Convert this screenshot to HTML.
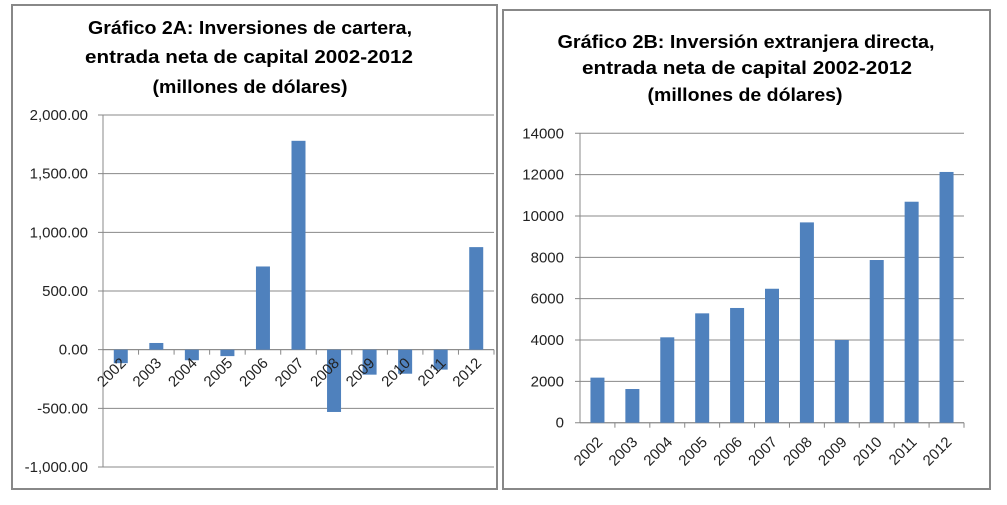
<!DOCTYPE html>
<html><head><meta charset="utf-8"><style>
body{margin:0;background:#fff;width:1007px;height:500px;overflow:hidden;font-family:"Liberation Sans",sans-serif}
</style></head><body>
<svg id="s" width="1007" height="500" xmlns="http://www.w3.org/2000/svg">
<rect x="12" y="5" width="485" height="484" fill="none" stroke="#888" stroke-width="2"/>
<rect x="503" y="10" width="487" height="479" fill="none" stroke="#888" stroke-width="2"/>
<g font-weight="bold" font-size="18" fill="#000" text-anchor="middle">
<text x="250" y="34" textLength="324" lengthAdjust="spacingAndGlyphs">Gráfico 2A: Inversiones de cartera,</text>
<text x="249" y="63" textLength="328" lengthAdjust="spacingAndGlyphs">entrada neta de capital 2002-2012</text>
<text x="250" y="93" textLength="195" lengthAdjust="spacingAndGlyphs">(millones de dólares)</text>
<text x="746" y="48" textLength="377" lengthAdjust="spacingAndGlyphs">Gráfico 2B: Inversión extranjera directa,</text>
<text x="747" y="74" textLength="330" lengthAdjust="spacingAndGlyphs">entrada neta de capital  2002-2012</text>
<text x="745" y="101" textLength="195" lengthAdjust="spacingAndGlyphs">(millones de dólares)</text>
</g>
</svg>
<script>
const years=['2002','2003','2004','2005','2006','2007','2008','2009','2010','2011','2012'];
const valuesA=[-115,57,-90,-55,709,1780,-531,-213,-205,-170,874];
const ticksA=[2000,1500,1000,500,0,-500,-1000];
const tickLabelsA=['2,000.00','1,500.00','1,000.00','500.00','0.00','-500.00','-1,000.00'];
const valuesB=[2180,1630,4130,5290,5550,6480,9690,4000,7870,10690,12130];
const ticksB=[14000,12000,10000,8000,6000,4000,2000,0];
const tickLabelsB=['14000','12000','10000','8000','6000','4000','2000','0'];
const svg=document.getElementById('s');
const NS='http://www.w3.org/2000/svg';
function el(t,a){const e=document.createElementNS(NS,t);for(const k in a)e.setAttribute(k,a[k]);svg.appendChild(e);return e;}
function chart(p,vals,ticks,labels,id){
  const y=v=>p.y0-(v-p.min)/(p.max-p.min)*(p.y0-p.y1);
  const bw=(p.x1-p.x0)/years.length;
  ticks.forEach((t,i)=>{
    const g=el('line',{x1:p.x0-5,x2:p.x1,y1:y(t),y2:y(t),stroke:'#888','stroke-width':1});
    
    
    const tx=el('text',{x:p.x0-p.lo,y:y(t)+5,'font-size':15,'text-anchor':'end',fill:'#222'});
    tx.textContent=labels[i];
    
    
  });
  const ax=el('line',{x1:p.x0,x2:p.x0,y1:y(p.max),y2:y(p.min),stroke:'#888'});
  
  
  const zy=y(0);
  const xa=el('line',{x1:p.x0,x2:p.x1,y1:zy,y2:zy,stroke:'#888'});
  
  
  vals.forEach((v,i)=>{
    const cx=p.x0+bw*(i+0.5);
    const tk=el('line',{x1:p.x0+bw*(i+1),x2:p.x0+bw*(i+1),y1:zy,y2:zy+5,stroke:'#888'});
    
    
    const r=el('rect',{x:cx-7,width:14,y:Math.min(y(v),zy),height:Math.abs(y(v)-zy),fill:'#4f81bd'});
    
    
    const lx=cx+6, ly=p.ly;
    const t=el('text',{x:lx,y:ly,'font-size':15,'text-anchor':'end',fill:'#222',transform:'rotate(-45 '+lx+' '+ly+')'});
    t.textContent=years[i];
    
    
  });
}
chart({x0:103,x1:494,y0:467,y1:115,min:-1000,max:2000,ly:364,lo:15},valuesA,ticksA,tickLabelsA,'chart-a');
chart({x0:580,x1:964,y0:422.7,y1:133.3,min:0,max:14000,ly:443,lo:16},valuesB,ticksB,tickLabelsB,'chart-b');
</script>
</body></html>
